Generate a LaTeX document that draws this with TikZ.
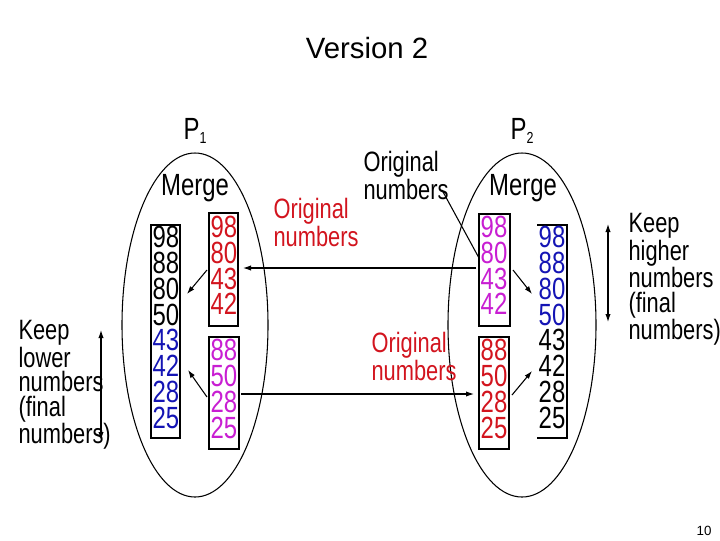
\documentclass[tikz,border=0pt]{standalone}
\usepackage{fontspec}
\usetikzlibrary{arrows.meta}
\setmainfont{Liberation Sans}
\newfontfamily\narrow[FakeStretch=0.78]{Liberation Sans}
\begin{document}
\begin{tikzpicture}[x=0.75pt,y=-0.75pt,line width=0.8pt,
  num/.style={font=\narrow\fontsize{23}{24}\selectfont,inner sep=0pt},
  lbl/.style={font=\narrow\fontsize{21}{18.5}\selectfont,align=left,inner sep=0pt,anchor=north west},
  ar/.style={-{Latex[length=6pt,width=4pt]}}]
\useasboundingbox (0,0) rectangle (720,540);
\definecolor{myred}{RGB}{210,20,30}
\definecolor{mymag}{RGB}{200,30,210}
\definecolor{myblue}{RGB}{20,20,180}
\node[font=\fontsize{22}{24}\selectfont] (title) at (367,48) {Version 2};
\node[font=\fontsize{10}{12}\selectfont] (pg) at (704,531) {10};
\draw (195,325) ellipse (73 and 172);
\draw (522,325) ellipse (74 and 172);
\node[num] (p1) at (195,131) {P\raisebox{-0.3ex}{\fontsize{12}{12}\selectfont 1}};
\node[num] (p2) at (522,131) {P\raisebox{-0.3ex}{\fontsize{12}{12}\selectfont 2}};
\node[num] (m1) at (195,188) {Merge};
\node[num] (m2) at (523,188) {Merge};
% left boxes
\draw (151,225) rectangle (180,438);
\draw (209,213) rectangle (238,326);
\draw[line width=1.8pt] (209,337) rectangle (239,449);
\foreach \v/\y in {98/237,88/263,80/289,50/315}{\node[num] at (166,\y) {\v};}
\foreach \v/\y in {43/340,42/366,28/392,25/418}{\node[num,text=myblue] at (166,\y) {\v};}
\foreach \v/\y in {98/227,80/253,43/279,42/304}{\node[num,text=myred] at (224,\y) {\v};}
\foreach \v/\y in {88/350,50/376,28/402,25/428}{\node[num,text=mymag] at (224,\y) {\v};}
% right boxes
\draw[line width=1.8pt] (479,214) rectangle (510,326);
\draw (479,337) rectangle (509,449);
\draw (537,225) -- (567,225) -- (567,438) -- (537,438);
\foreach \v/\y in {98/227,80/253,43/279,42/304}{\node[num,text=mymag] at (494,\y) {\v};}
\foreach \v/\y in {88/350,50/376,28/402,25/428}{\node[num,text=myred] at (494,\y) {\v};}
\foreach \v/\y in {98/237,88/263,80/289,50/315}{\node[num,text=myblue] at (552,\y) {\v};}
\foreach \v/\y in {43/340,42/366,28/392,25/418}{\node[num] at (552,\y) {\v};}
% arrows
\coordinate (a1) at (207,270); \coordinate (a2) at (187,294);
\coordinate (b1) at (207,397); \coordinate (b2) at (188,370);
\coordinate (c1) at (513,270); \coordinate (c2) at (532,294);
\coordinate (d1) at (512,395); \coordinate (d2) at (532,371);
\draw[ar] (a1) -- (a2); \draw[ar] (b1) -- (b2);
\draw[ar] (c1) -- (c2); \draw[ar] (d1) -- (d2);
\coordinate (h1) at (476,268); \coordinate (h2) at (243,268);
\coordinate (k1) at (241,394); \coordinate (k2) at (474,394);
\draw[ar] (h1) -- (h2); \draw[ar] (k1) -- (k2);
% labels
\node[lbl,text=myred] (o1) at (273,198) {Original\\numbers};
\node[lbl] (o2) at (363,151) {Original\\numbers};
\node[lbl,text=myred] (o3) at (371,332) {Original\\numbers};
\coordinate (o2e) at (442,190); \coordinate (o2t) at (479,258);
\draw (o2e) -- (o2t);
\node[lbl] (kl) at (18,320) {Keep\\lower\\numbers\\(final\\numbers)};
\node[lbl] (kh) at (628,213) {Keep\\higher\\numbers\\(final\\numbers)};
\coordinate (u1) at (101,330); \coordinate (u2) at (101,440);
\coordinate (v1) at (608,224); \coordinate (v2) at (608,322);
\draw[{Latex[length=6pt,width=4pt]}-{Latex[length=6pt,width=4pt]}] (u1) -- (u2);
\draw[{Latex[length=6pt,width=4pt]}-{Latex[length=6pt,width=4pt]}] (v1) -- (v2);
\end{tikzpicture}
\end{document}
